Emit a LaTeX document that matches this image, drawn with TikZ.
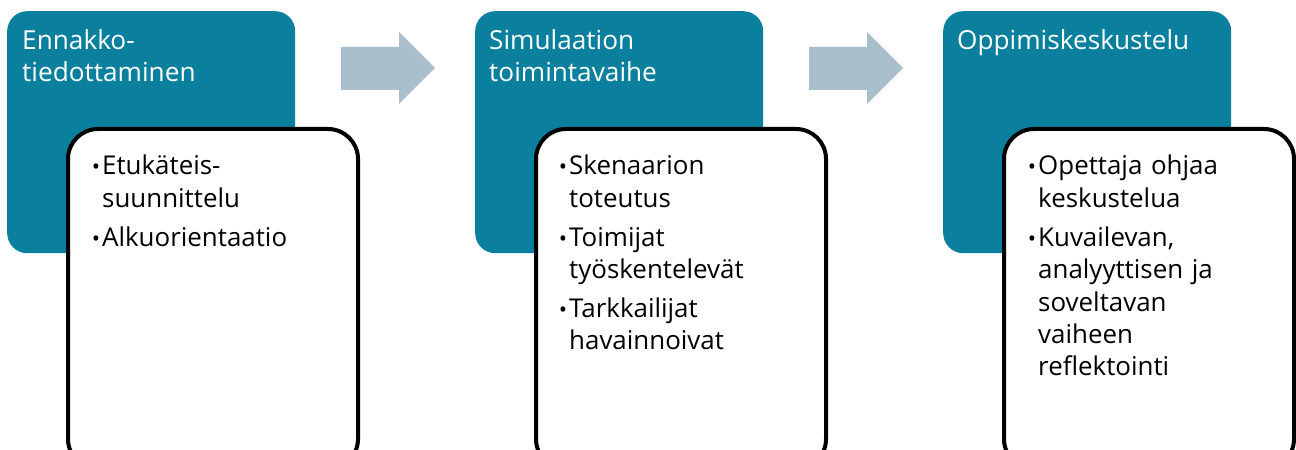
\documentclass[tikz,border=0pt]{standalone}
\usepackage{fontspec}
\setmainfont{Open Sans}
\definecolor{phaseblue}{HTML}{0B7F9E}
\definecolor{flowgrey}{HTML}{A9BFCB}
\newcommand{\bul}{\leavevmode\llap{{\fontsize{22}{22}\selectfont•}\hspace{2bp}}}
\begin{document}
\begin{tikzpicture}[x=1bp,y=-1bp,
  phase/.style={fill=phaseblue, draw=none, rounded corners=20bp, inner sep=0pt,
    anchor=north west, minimum width=288bp, minimum height=242bp},
  detail/.style={fill=white, draw=black, line width=4bp, rounded corners=30bp,
    inner sep=0pt, anchor=north west, minimum width=290bp, minimum height=340bp},
  heading/.style={text=white, font=\fontsize{26.3}{32}\selectfont, align=left,
    text width=270bp, anchor=base west, inner sep=0pt},
  itemtext/.style={text=black, font=\fontsize{26}{32.5}\selectfont, align=left,
    text width=250bp, anchor=base west, inner sep=0pt},
  flow/.style={fill=flowgrey, draw=none}]
\useasboundingbox (0,0) rectangle (1296,450);
\clip (0,0) rectangle (1296,450);

% phase 1
\node[phase] (p1) at (7,11) {};
\node[heading] (h1) at (22,50) {Ennakko-\\tiedottaminen};
\node[detail] (d1) at (66,127) {};
\node[itemtext] (t1) at (102,175) {\bul Etukäteis-\\suunnittelu\\[6.5bp]\bul Alkuorientaatio};

% phase 2
\node[phase] (p2) at (475,11) {};
\node[heading] (h2) at (489,50) {Simulaation\\toimintavaihe};
\node[detail] (d2) at (534,127) {};
\node[itemtext] (t2) at (569,175) {\bul Skenaarion\\toteutus\\[6.5bp]\bul Toimijat\\työskentelevät\\[6.5bp]\bul Tarkkailijat\\havainnoivat};

% phase 3
\node[phase] (p3) at (943,11) {};
\node[heading] (h3) at (957,50) {Oppimiskeskustelu};
\node[detail] (d3) at (1002,127) {};
\node[itemtext] (t3) at (1038,175) {\bul Opettaja ohjaa\\keskustelua\\[6.5bp]\bul Kuvailevan,\\analyyttisen ja\\soveltavan\\vaiheen\\reflektointi};

% block arrows between the phases
\fill[flow] (341,47) -- (399,47) -- (399,32) -- (435,68) -- (399,104) -- (399,90) -- (341,90) -- cycle;
\fill[flow] (809,47) -- (867,47) -- (867,32) -- (903,68) -- (867,104) -- (867,90) -- (809,90) -- cycle;
\end{tikzpicture}
\end{document}
